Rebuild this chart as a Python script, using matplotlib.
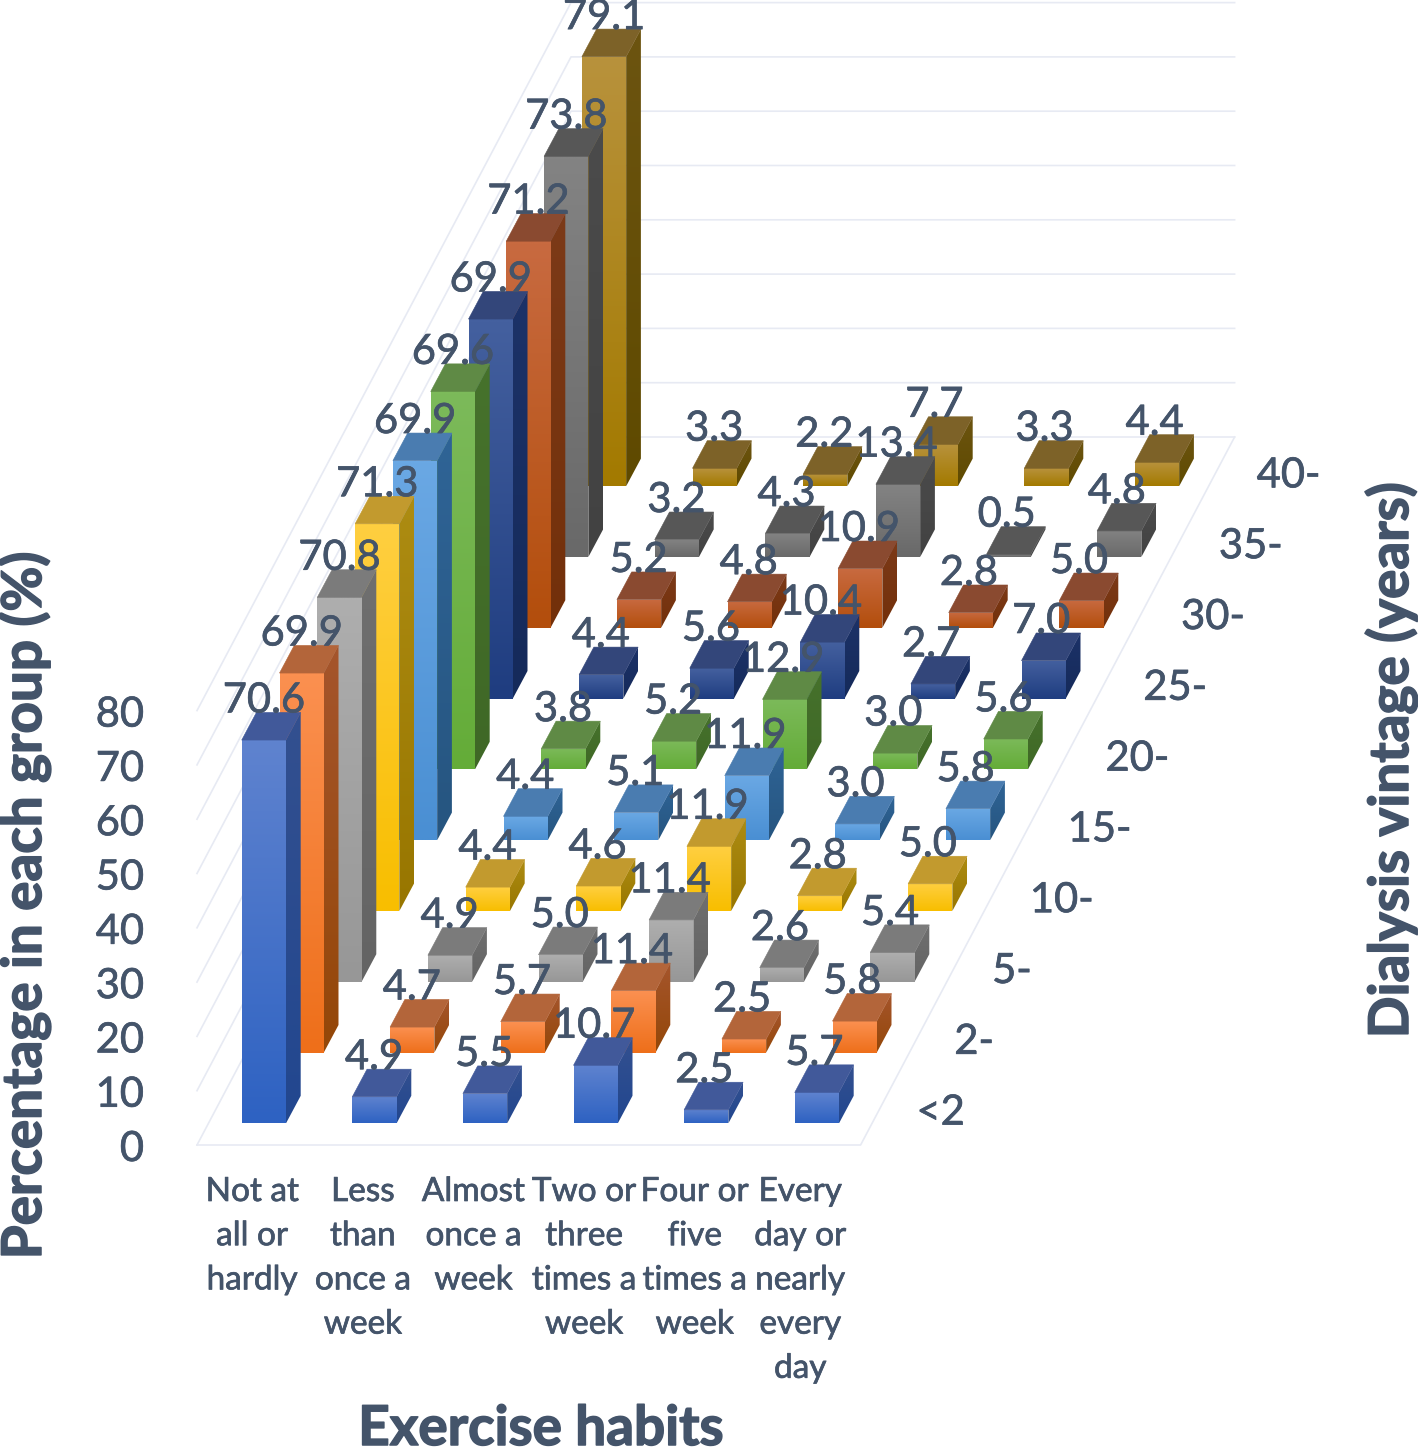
import numpy as np
import matplotlib
matplotlib.use("Agg")
import matplotlib.pyplot as plt
import matplotlib.patheffects as pe
from matplotlib.patches import Polygon
from matplotlib.colors import to_rgb

habits = ["Not at\nall or\nhardly", "Less\nthan\nonce a\nweek", "Almost\nonce a\nweek",
          "Two or\nthree\ntimes a\nweek", "Four or\nfive\ntimes a\nweek",
          "Every\nday or\nnearly\nevery\nday"]
vintages = ["<2", "2-", "5-", "10-", "15-", "20-", "25-", "30-", "35-", "40-"]
z_ticks = [0, 10, 20, 30, 40, 50, 60, 70, 80]

# one row per dialysis vintage, one value per exercise habit
v_lt2 = [70.6, 4.9, 5.5, 10.7, 2.5, 5.7]
v_2 = [69.9, 4.7, 5.7, 11.4, 2.5, 5.8]
v_5 = [70.8, 4.9, 5.0, 11.4, 2.6, 5.4]
v_10 = [71.3, 4.4, 4.6, 11.9, 2.8, 5.0]
v_15 = [69.9, 4.4, 5.1, 11.9, 3.0, 5.8]
v_20 = [69.6, 3.8, 5.2, 12.9, 3.0, 5.6]
v_25 = [69.9, 4.4, 5.6, 10.4, 2.7, 7.0]
v_30 = [71.2, 5.2, 4.8, 10.9, 2.8, 5.0]
v_35 = [73.8, 3.2, 4.3, 13.4, 0.5, 4.8]
v_40 = [79.1, 3.3, 2.2, 7.7, 3.3, 4.4]
rows = [v_lt2, v_2, v_5, v_10, v_15, v_20, v_25, v_30, v_35, v_40]

# front top, front bottom, top face, side top, side bottom
colors = [
    ("#5f83cf", "#2e62c2", "#41599a", "#33508f", "#22478f"),
    ("#fb9050", "#ee6f1a", "#b3653a", "#a5552c", "#944708"),
    ("#aeaeae", "#979797", "#7b7b7b", "#6f6f6f", "#646464"),
    ("#ffcf40", "#f8be00", "#c29a2e", "#ad8c12", "#987600"),
    ("#6aa8e4", "#4a8fd3", "#4a7cb0", "#2f6496", "#265580"),
    ("#7cba5a", "#64ac38", "#5f8a45", "#46722c", "#3f6826"),
    ("#44609f", "#1f3d80", "#33467a", "#1c3268", "#152a5a"),
    ("#c86a40", "#b34e0c", "#8a4a30", "#7c3a18", "#73300a"),
    ("#838383", "#696969", "#575757", "#4b4b4b", "#424242"),
    ("#b8923c", "#a37a00", "#7d6228", "#6c5410", "#5f4a00"),
]

TEXT = "#44546A"
GRID = "#E7EAF3"
FONT = "Lato"
thick = [pe.withStroke(linewidth=0.5, foreground=TEXT)]
thicker = [pe.withStroke(linewidth=1.1, foreground=TEXT)]

# oblique projection of the Excel 3D chart, pixels per unit
X0, Y0 = 197, 1145
SU = 110.6
SV_BAR, SV_FLOOR = 37.8, 37.4
TV = 70.8
SZ = 5.43


def project(u, v, z, sv=SV_BAR):
    return (X0 + SU * u + sv * v, Y0 - TV * v - SZ * z)


def shade(ax, pts, c_top, c_bot, zorder):
    pts = np.array(pts)
    grad = np.linspace(to_rgb(c_top), to_rgb(c_bot), 64).reshape(64, 1, 3)
    im = ax.imshow(grad, extent=[pts[:, 0].min(), pts[:, 0].max(), pts[:, 1].max(), pts[:, 1].min()],
                   aspect="auto", interpolation="bilinear", zorder=zorder)
    im.set_clip_path(Polygon(pts, transform=ax.transData))


def bar3d(ax, i, j, val, cols, zorder):
    u0, u1 = i + 0.3, i + 0.7
    v0, v1 = j + 0.305, j + 0.695
    front = [project(u0, v0, val), project(u1, v0, val), project(u1, v0, 0), project(u0, v0, 0)]
    side = [project(u1, v0, val), project(u1, v1, val), project(u1, v1, 0), project(u1, v0, 0)]
    top = [project(u0, v0, val), project(u1, v0, val), project(u1, v1, val), project(u0, v1, val)]
    shade(ax, side, cols[3], cols[4], zorder)
    shade(ax, front, cols[0], cols[1], zorder + 0.1)
    ax.add_patch(Polygon(top, closed=True, facecolor=cols[2], edgecolor=cols[2], lw=0.4, zorder=zorder + 0.2))
    # label sits on the back edge of the top, centred on the front face
    x = (front[0][0] + front[1][0]) / 2 - 0.5 * i
    ax.text(x, top[2][1], f"{val:.1f}", ha="center", va="baseline", fontsize=30, color=TEXT,
            family=FONT, zorder=500, path_effects=thick)


fig = plt.figure(figsize=(14.18, 14.47), dpi=100)
ax = fig.add_axes([0, 0, 1, 1])
ax.axis("off")

# walls and floor
nv = len(vintages)
nu = len(habits)
for t in z_ticks:
    a = project(0, 0, t, SV_FLOOR)
    b = project(0, nv, t, SV_FLOOR)
    c = project(nu, nv, t, SV_FLOOR)
    ax.plot([a[0], b[0], c[0]], [a[1], b[1], c[1]], color=GRID, lw=1.2, zorder=0.5)
a = project(0, 0, 0, SV_FLOOR)
b = project(nu, 0, 0, SV_FLOOR)
c = project(nu, nv, 0, SV_FLOOR)
ax.plot([a[0], b[0], c[0]], [a[1], b[1], c[1]], color=GRID, lw=1.2, zorder=0.5)

for j in range(nv - 1, -1, -1):
    for i in range(nu):
        bar3d(ax, i, j, rows[j][i], colors[j], 10 + (nv - j) * 10 + i)

for t in z_ticks:
    ax.text(144, project(0, 0, t)[1] + 4, str(t), ha="right", va="center", fontsize=30, color=TEXT,
            family=FONT, path_effects=thick)

for j, lab in enumerate(vintages):
    x, y = project(nu, j + 0.5, 0)
    ax.text(x + 37, y + 3, lab, ha="left", va="center", fontsize=30, color=TEXT, family=FONT,
            path_effects=thick)

cat_nudge = [0, 0, 0, 0, 0, -5]
for i, lab in enumerate(habits):
    x = project(i + 0.5, 0, 0)[0] + cat_nudge[i]
    for k, line in enumerate(lab.split("\n")):
        ax.text(x, 1192 + 44.2 * k, line, ha="center", va="center", fontsize=24, color=TEXT,
                family=FONT, path_effects=thick)

title_kw = dict(fontsize=39.5, fontweight="bold", color=TEXT, family=FONT, va="baseline", ha="center",
                rotation_mode="anchor", path_effects=thicker)
ax.text(541, 1445, "Exercise habits", **title_kw)
ax.text(41, 905, "Percentage in each group (%)", rotation=90, **title_kw)
ax.text(1408, 760, "Dialysis vintage (years)", rotation=90, **title_kw)

ax.set_xlim(0, 1418)
ax.set_ylim(1447, 0)
fig.savefig("out.png", dpi=100)
